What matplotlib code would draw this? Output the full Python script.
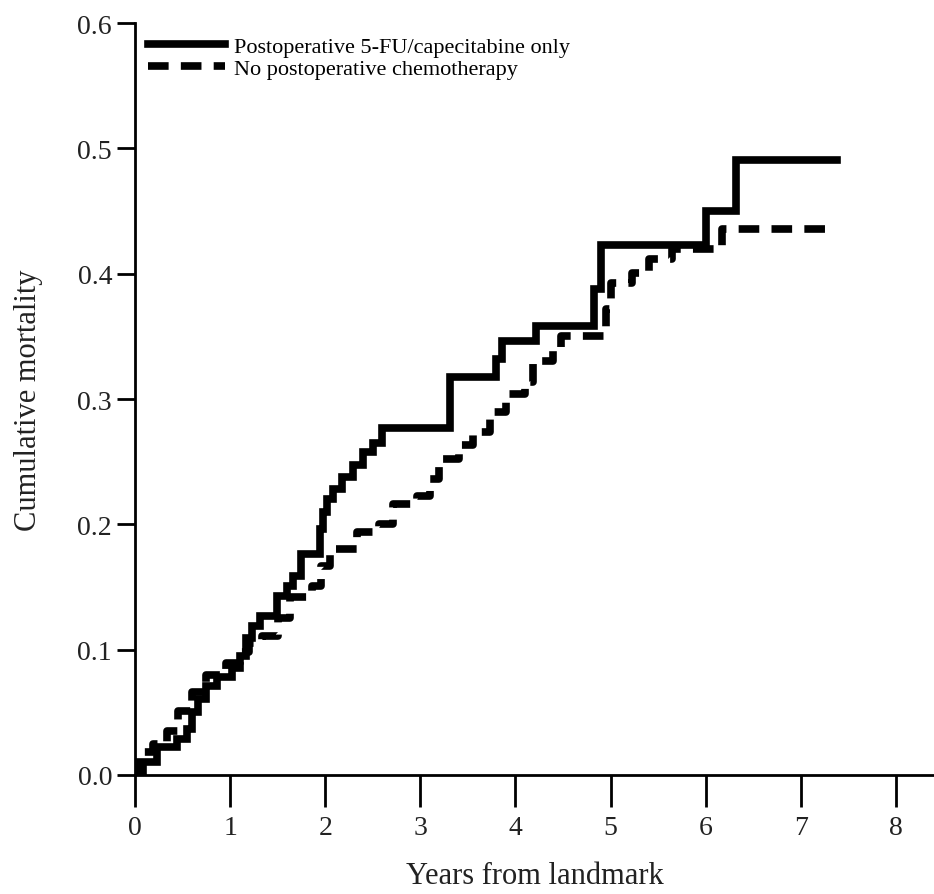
import numpy as np
import matplotlib
matplotlib.use('Agg')
import matplotlib.pyplot as plt

# Step points (years, cumulative mortality)
t_chemo = [0, 0.02, 0.23, 0.44, 0.55, 0.60, 0.66, 0.75, 0.86, 1.02, 1.10, 1.17, 1.23, 1.31,
           1.49, 1.60, 1.66, 1.75, 1.94, 1.98, 2.02, 2.08, 2.18, 2.29, 2.40, 2.50, 2.60,
           3.31, 3.80, 3.86, 4.22, 4.83, 4.90, 6.00, 6.32, 7.38]
m_chemo = [0, 0.010, 0.022, 0.029, 0.037, 0.050, 0.061, 0.071, 0.078, 0.085, 0.095, 0.109,
           0.119, 0.127, 0.143, 0.151, 0.159, 0.176, 0.196, 0.210, 0.220, 0.228, 0.238,
           0.247, 0.258, 0.265, 0.277, 0.318, 0.332, 0.346, 0.358, 0.388, 0.423, 0.450,
           0.491, 0.491]

t_none = [0, 0.08, 0.19, 0.34, 0.45, 0.60, 0.75, 0.96, 1.10, 1.20, 1.34, 1.50, 1.63, 1.86,
          1.96, 2.05, 2.33, 2.57, 2.71, 2.96, 3.10, 3.20, 3.41, 3.55, 3.73, 3.90, 4.10,
          4.18, 4.39, 4.48, 4.95, 5.00, 5.23, 5.40, 5.65, 6.17, 7.35]
m_none = [0, 0.018, 0.025, 0.035, 0.051, 0.066, 0.080, 0.089, 0.098, 0.105, 0.111, 0.125,
          0.142, 0.151, 0.167, 0.180, 0.194, 0.200, 0.216, 0.223, 0.236, 0.252, 0.263,
          0.274, 0.290, 0.304, 0.314, 0.330, 0.338, 0.350, 0.372, 0.393, 0.401, 0.412,
          0.420, 0.436, 0.436]

labels = ['Postoperative 5-FU/capecitabine only', 'No postoperative chemotherapy']
x_ticks = [0, 1, 2, 3, 4, 5, 6, 7, 8]
y_ticks = [0.0, 0.1, 0.2, 0.3, 0.4, 0.5, 0.6]

plt.rcParams['font.family'] = ['Liberation Serif', 'DejaVu Serif']

fig = plt.figure(figsize=(9.34, 8.95), dpi=100)
ax = fig.add_axes([0.1445, 0.133, 0.8555, 0.840])

ax.step(t_chemo, m_chemo, where='post', color='black', lw=5.5,
        solid_joinstyle='miter', label=labels[0])
ax.step(t_none, m_none, where='post', color='black', lw=5.5,
        linestyle=(0, (2.7, 1.6)), dash_capstyle='butt', label=labels[1])

ax.set_xlim(0, 8.4)
ax.set_ylim(0, 0.6)
ax.set_xticks(x_ticks)
ax.set_yticks(y_ticks)
ax.set_yticklabels(['%.1f' % v for v in y_ticks])
ax.spines['top'].set_visible(False)
ax.spines['right'].set_visible(False)
ax.spines['left'].set_linewidth(2.0)
ax.spines['bottom'].set_linewidth(2.0)
ax.tick_params(direction='out', width=2.0, labelsize=20, labelcolor='#222222', color='black')
ax.tick_params(axis='y', length=13, pad=3.5)
ax.tick_params(axis='x', length=23, pad=6)

ax.set_xlabel('Years from landmark', fontsize=22, labelpad=15, color='#222222')
ax.set_ylabel('Cumulative mortality', fontsize=22, labelpad=24.5, color='#222222')

ax.legend(loc='upper left', bbox_to_anchor=(0.0, 1.0), frameon=False, fontsize=16,
          handlelength=3.45, handletextpad=0.4, labelspacing=0.05, borderaxespad=0.3,
          borderpad=0.3)

fig.savefig('out.png', dpi=100)
